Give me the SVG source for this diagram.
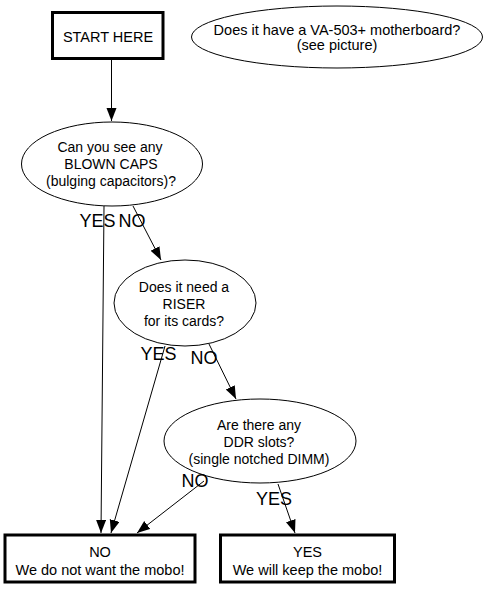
<svg xmlns="http://www.w3.org/2000/svg" width="485" height="589" viewBox="0 0 485 589">
<defs>
<marker id="arrow" markerUnits="userSpaceOnUse" markerWidth="14" markerHeight="11" refX="13" refY="5" orient="auto">
<path d="M0,0 L13,5 L0,10 z" fill="#000"/>
</marker>
<style>
text{font-family:"Liberation Sans",Arial,Helvetica,sans-serif;fill:#000}
.t{font-size:14px;text-anchor:middle}
.w{font-size:14.5px}
.lbl{font-size:18px}
.box{fill:#fff;stroke:#000;stroke-width:3}
.q{fill:#fff;stroke:#000;stroke-width:1}
.edge{fill:none;stroke:#000;stroke-width:1;marker-end:url(#arrow)}
</style>
</defs>
<rect width="485" height="589" fill="#fff"/>
<g id="connectors">
<path class="edge" d="M111.5,60 L111.5,121"/>
<path class="edge" d="M104,206 L101,533"/>
<path class="edge" d="M133,206 L161,260"/>
<path class="edge" d="M165,346 L111,533"/>
<path class="edge" d="M209,344 L236,399"/>
<path class="edge" d="M204,481 L137,533"/>
<path class="edge" d="M278,484 L295,533"/>
</g>
<g id="start">
<rect class="box" x="52.5" y="12.5" width="110.5" height="46"/>
<text class="t w" x="108" y="42">START HERE</text>
</g>
<g id="va503">
<ellipse class="q" cx="337" cy="37" rx="145.5" ry="31"/>
<text class="t w" x="337" y="34.5">Does it have a VA-503+ motherboard?</text>
<text class="t w" x="337" y="49.5">(see picture)</text>
</g>
<g id="caps">
<ellipse class="q" cx="112" cy="164" rx="90.5" ry="42"/>
<text class="t" x="110" y="151.5">Can you see any</text>
<text class="t" x="111" y="168.5">BLOWN CAPS</text>
<text class="t" x="111" y="185.5">(bulging capacitors)?</text>
</g>
<g id="riser">
<ellipse class="q" cx="185" cy="303" rx="71" ry="43"/>
<text class="t" x="184" y="292">Does it need a</text>
<text class="t" x="184" y="309">RISER</text>
<text class="t" x="184" y="326">for its cards?</text>
</g>
<g id="ddr">
<ellipse class="q" cx="260" cy="441" rx="96" ry="42"/>
<text class="t" x="259" y="430">Are there any</text>
<text class="t" x="259" y="447">DDR slots?</text>
<text class="t" x="259" y="464">(single notched DIMM)</text>
</g>
<g id="no">
<rect class="box" x="5" y="535" width="190" height="47"/>
<text class="t w" x="100" y="556.5">NO</text>
<text class="t w" x="100" y="575">We do not want the mobo!</text>
</g>
<g id="yes">
<rect class="box" x="220.5" y="535" width="174" height="47"/>
<text class="t w" x="307.5" y="556.5">YES</text>
<text class="t w" x="307.5" y="575">We will keep the mobo!</text>
</g>
<g id="labels">
<text class="lbl" x="79.5" y="227">YES</text>
<text class="lbl" x="118.5" y="227">NO</text>
<text class="lbl" x="140.5" y="360">YES</text>
<text class="lbl" x="190.5" y="364">NO</text>
<text class="lbl" x="181.5" y="487">NO</text>
<text class="lbl" x="256" y="505">YES</text>
</g>
</svg>
